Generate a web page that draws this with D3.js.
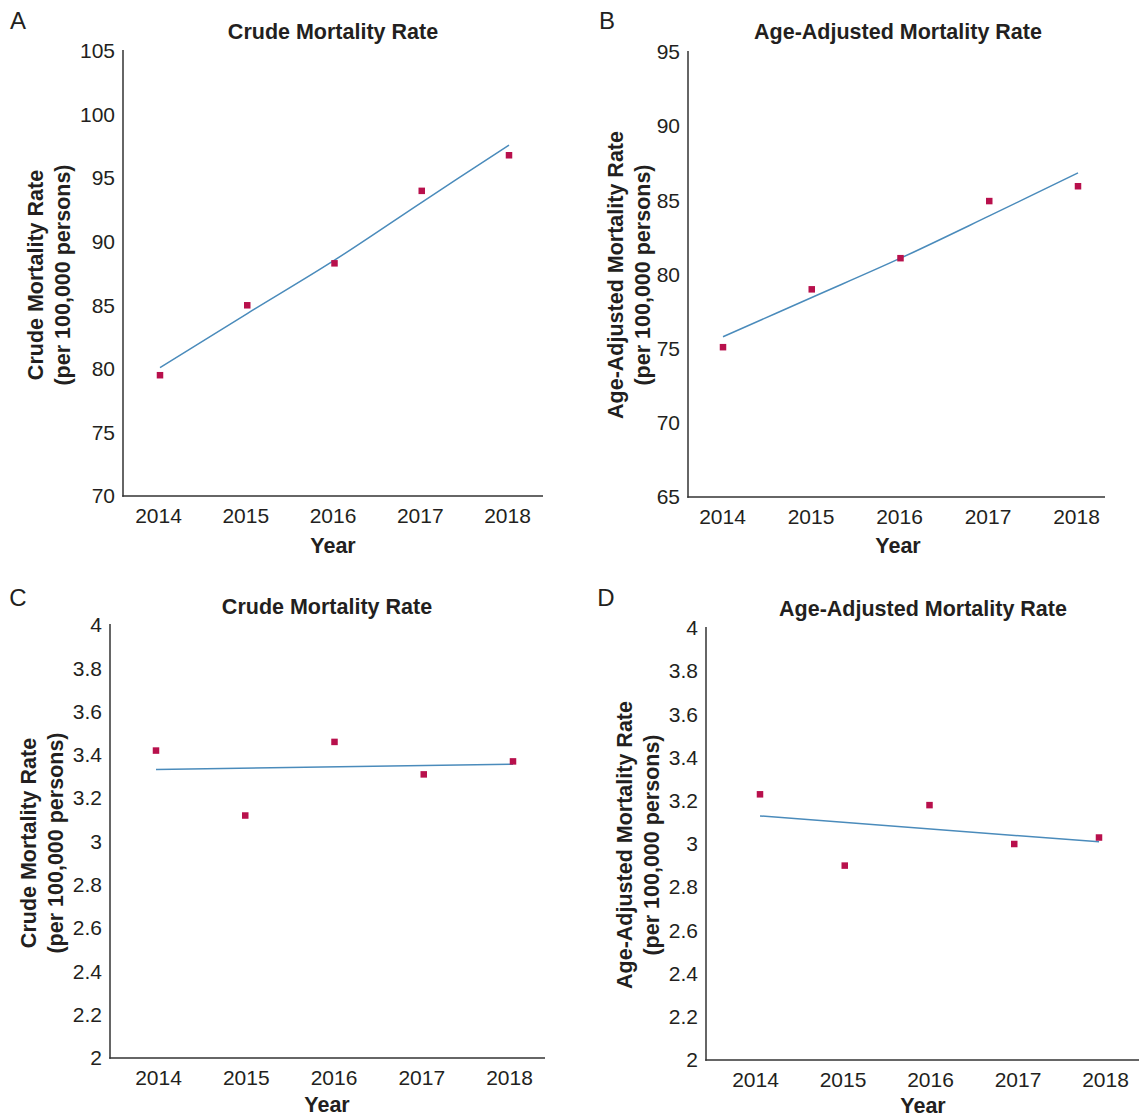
<!DOCTYPE html>
<html>
<head>
<meta charset="utf-8">
<script src="https://cdn.jsdelivr.net/npm/d3@7"></script>
<style>
  html, body { margin: 0; padding: 0; background: #ffffff; }
  svg { display: block; font-family: "Liberation Sans", Arial, Helvetica, sans-serif; }
</style>
</head>
<body>
<svg id="chart" width="1139" height="1118"></svg>
<script>
// ---------------- data ----------------
const years = [2014, 2015, 2016, 2017, 2018];

// Panel A – crude mortality rate (per 100,000)
const crudeRateA = [79.5, 85.0, 88.3, 94.0, 96.8];
const crudeTrendA = [80.1, 84.35, 88.55, 93.1, 97.6];
const ticksA = [70, 75, 80, 85, 90, 95, 100, 105];

// Panel B – age-adjusted mortality rate (per 100,000)
const ageAdjRateB = [75.1, 79.0, 81.1, 84.95, 85.95];
const ageAdjTrendB = [75.8, 78.45, 81.1, 83.95, 86.85];
const ticksB = [65, 70, 75, 80, 85, 90, 95];

// Panel C – crude mortality rate (per 100,000)
const crudeRateC = [3.42, 3.12, 3.46, 3.31, 3.37];
const trendYearsC = [2014, 2018];
const crudeTrendC = [3.333, 3.357];
const ticksC = [2, 2.2, 2.4, 2.6, 2.8, 3, 3.2, 3.4, 3.6, 3.8, 4];

// Panel D – age-adjusted mortality rate (per 100,000)
const ageAdjRateD = [3.23, 2.90, 3.18, 3.00, 3.03];
const trendYearsD = [2014, 2018];
const ageAdjTrendD = [3.13, 3.01];
const ticksD = [2, 2.2, 2.4, 2.6, 2.8, 3, 3.2, 3.4, 3.6, 3.8, 4];

const titleCrude = "Crude Mortality Rate";
const titleAgeAdj = "Age-Adjusted Mortality Rate";
const unitLabel = "(per 100,000 persons)";
const xTitle = "Year";

// ---------------- layout ----------------
const markerColor = "#b8104c";
const trendColor = "#4a8bbb";
const axisColor = "#333333";
const textColor = "#231f20";
const tickFont = 21;
const titleFont = 21.5;

const panels = [
  { letter: "A", letterPos: [18, 20], title: titleCrude, titlePos: [333, 32],
    yTitle: titleCrude, yTitleX: [36, 63], yTitleY: 275,
    axisX: 123, yTop: 51, yBottom: 496, xEnd: 543,
    labelRange: [158, 507], markRange: [160, 509], yearPos: [333, 546],
    domain: [70, 105], ticks: ticksA,
    values: crudeRateA, trendYears: years, trend: crudeTrendA, curved: true },
  { letter: "B", letterPos: [607, 20], title: titleAgeAdj, titlePos: [898, 32],
    yTitle: titleAgeAdj, yTitleX: [616, 643], yTitleY: 275,
    axisX: 688, yTop: 52, yBottom: 497, xEnd: 1105,
    labelRange: [722, 1076], markRange: [723, 1078], yearPos: [898, 546],
    domain: [65, 95], ticks: ticksB,
    values: ageAdjRateB, trendYears: years, trend: ageAdjTrendB, curved: true },
  { letter: "C", letterPos: [18, 597], title: titleCrude, titlePos: [327, 607],
    yTitle: titleCrude, yTitleX: [29, 56], yTitleY: 843,
    axisX: 110, yTop: 625, yBottom: 1058, xEnd: 545,
    labelRange: [158, 509], markRange: [156, 513], yearPos: [327, 1105],
    domain: [2, 4], ticks: ticksC,
    values: crudeRateC, trendYears: trendYearsC, trend: crudeTrendC, curved: false },
  { letter: "D", letterPos: [606, 597], title: titleAgeAdj, titlePos: [923, 609],
    yTitle: titleAgeAdj, yTitleX: [625, 652], yTitleY: 845,
    axisX: 706, yTop: 628, yBottom: 1060, xEnd: 1139,
    labelRange: [755, 1105], markRange: [760, 1099], yearPos: [923, 1105.5],
    domain: [2, 4], ticks: ticksD,
    values: ageAdjRateD, trendYears: trendYearsD, trend: ageAdjTrendD, curved: false }
];

const svg = d3.select("#chart");

panels.forEach(p => {
  const g = svg.append("g");
  const y = d3.scaleLinear().domain(p.domain).range([p.yBottom, p.yTop]);
  const xLab = d3.scalePoint().domain(years).range(p.labelRange);
  const xMark = d3.scalePoint().domain(years).range(p.markRange);

  // y axis
  const yAxis = d3.axisLeft(y).tickValues(p.ticks).tickSize(0).tickPadding(8)
    .tickFormat(d => String(+d.toFixed(1)));
  const ya = g.append("g").attr("transform", `translate(${p.axisX},0)`).call(yAxis);
  ya.select(".domain").remove();
  ya.selectAll("text").attr("font-size", tickFont).attr("fill", textColor)
    .attr("font-family", "Liberation Sans, Arial, sans-serif");

  // x axis labels
  const xAxis = d3.axisBottom(xLab).tickSize(0).tickPadding(12.5).tickFormat(d3.format("d"));
  const xa = g.append("g").attr("transform", `translate(0,${p.yBottom})`).call(xAxis);
  xa.select(".domain").remove();
  xa.selectAll("text").attr("font-size", tickFont).attr("fill", textColor)
    .attr("font-family", "Liberation Sans, Arial, sans-serif");

  // axis lines
  g.append("line").attr("x1", p.axisX).attr("x2", p.axisX)
    .attr("y1", p.yTop - 1).attr("y2", p.yBottom + 0.75)
    .attr("stroke", axisColor).attr("stroke-width", 1.5);
  g.append("line").attr("x1", p.axisX - 0.75).attr("x2", p.xEnd)
    .attr("y1", p.yBottom).attr("y2", p.yBottom)
    .attr("stroke", axisColor).attr("stroke-width", 1.5);

  // trend line
  const trendData = p.trendYears.map((yr, i) => ({ yr, v: p.trend[i] }));
  const line = d3.line()
    .x(d => xMark(d.yr)).y(d => y(d.v))
    .curve(p.curved ? d3.curveCatmullRom.alpha(0.5) : d3.curveLinear);
  g.append("path").datum(trendData).attr("d", line)
    .attr("fill", "none").attr("stroke", trendColor).attr("stroke-width", 1.5);

  // markers
  const sz = 6.5;
  g.selectAll("rect.pt").data(years.map((yr, i) => ({ yr, v: p.values[i] })))
    .join("rect").attr("class", "pt")
    .attr("x", d => xMark(d.yr) - sz / 2).attr("y", d => y(d.v) - sz / 2)
    .attr("width", sz).attr("height", sz).attr("fill", markerColor);

  // titles
  g.append("text").attr("x", p.titlePos[0]).attr("y", p.titlePos[1])
    .attr("text-anchor", "middle").attr("dominant-baseline", "central")
    .attr("font-size", titleFont).attr("font-weight", "bold").attr("fill", textColor)
    .text(p.title);
  g.append("text").attr("x", p.yearPos[0]).attr("y", p.yearPos[1])
    .attr("text-anchor", "middle").attr("dominant-baseline", "central")
    .attr("font-size", titleFont).attr("font-weight", "bold").attr("fill", textColor)
    .text(xTitle);
  g.append("text").attr("x", p.letterPos[0]).attr("y", p.letterPos[1])
    .attr("text-anchor", "middle").attr("dominant-baseline", "central")
    .attr("font-size", 24).attr("fill", textColor)
    .text(p.letter);

  // y titles (rotated, two lines)
  [p.yTitle, unitLabel].forEach((t, i) => {
    g.append("text")
      .attr("transform", `translate(${p.yTitleX[i]},${p.yTitleY}) rotate(-90)`)
      .attr("text-anchor", "middle").attr("dominant-baseline", "central")
      .attr("font-size", titleFont).attr("font-weight", "bold").attr("fill", textColor)
      .text(t);
  });
});
</script>
</body>
</html>
